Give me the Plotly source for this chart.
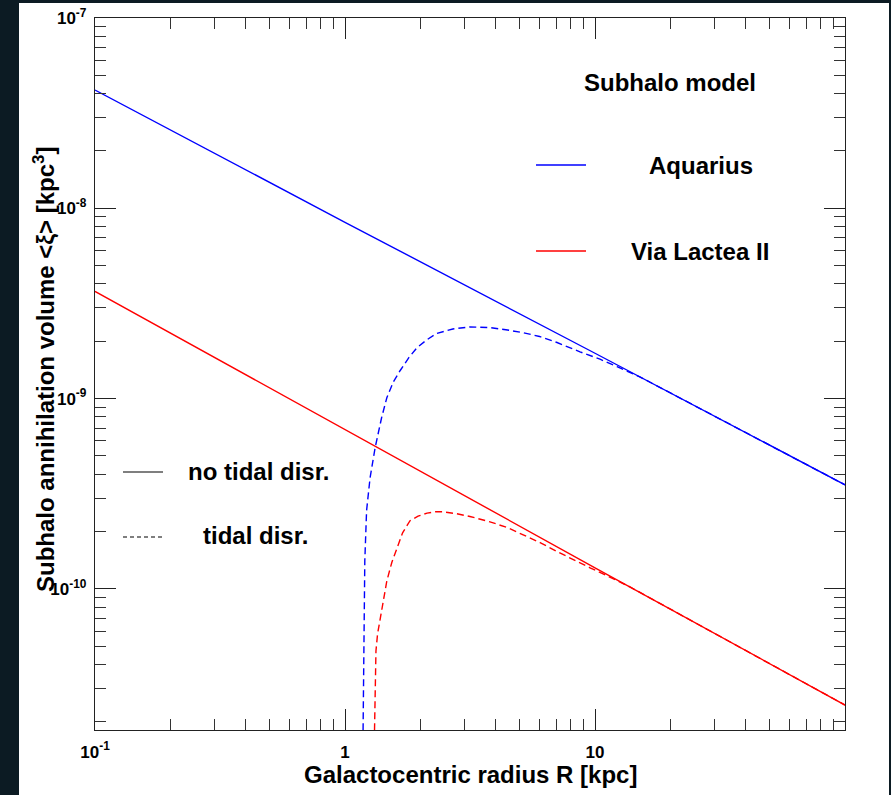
import plotly.graph_objects as go

# ---------------- data ----------------
R_solid = [0.1, 1.0, 10.0, 100.0]
aquarius_solid = [4.18e-8, 8.44e-9, 1.73e-9, 3.52e-10]
vl2_solid = [3.66e-9, 6.87e-10, 1.29e-10, 2.45e-11]

R_aq_tidal = [1.18, 1.19, 1.20, 1.22, 1.26, 1.32, 1.40, 1.47, 1.56, 1.66, 1.80, 1.94,
              2.13, 2.33, 2.70, 3.16, 3.80, 4.40, 5.15, 6.00, 7.05, 8.71, 10.47,
              12.25, 15.1, 100.0]
aquarius_tidal = [1.58e-11, 4.7e-11, 1.40e-10, 2.58e-10, 3.84e-10, 5.52e-10, 7.9e-10,
                  1.01e-9, 1.22e-9, 1.40e-9, 1.64e-9, 1.85e-9, 2.04e-9, 2.20e-9,
                  2.32e-9, 2.38e-9, 2.36e-9, 2.30e-9, 2.22e-9, 2.12e-9, 1.97e-9,
                  1.76e-9, 1.61e-9, 1.47e-9, 1.30e-9, 3.52e-10]

R_vl_tidal = [1.31, 1.32, 1.33, 1.35, 1.38, 1.42, 1.47, 1.54, 1.61, 1.70, 1.82, 1.96,
              2.13, 2.30, 2.47, 2.80, 3.16, 3.80, 4.45, 5.15, 6.03, 7.05, 8.17, 9.55,
              11.4, 13.8, 100.0]
vl2_tidal = [1.58e-11, 2.90e-11, 4.72e-11, 5.8e-11, 6.79e-11, 8.6e-11, 1.10e-10,
             1.38e-10, 1.64e-10, 1.97e-10, 2.28e-10, 2.41e-10, 2.50e-10, 2.54e-10,
             2.54e-10, 2.48e-10, 2.40e-10, 2.25e-10, 2.10e-10, 1.93e-10, 1.75e-10,
             1.57e-10, 1.42e-10, 1.29e-10, 1.156e-10, 1.023e-10, 2.45e-11]

x_tickvals = [0.1, 1, 10]
x_ticktext = ["10<sup>-1</sup>", "1", "10"]
y_tickvals = [1e-7, 1e-8, 1e-9, 1e-10]
y_ticktext = ["10<sup>-7</sup>", "10<sup>-8</sup>", "10<sup>-9</sup>", "10<sup>-10</sup>"]

# ---------------- figure ----------------
W, H = 891, 795
L, R_, T, B = 95, 46, 18, 65
pw, ph = W - L - R_, H - T - B

def px(x):
    return (x - L) / pw

def py(y):
    return (H - B - y) / ph

FONT = "Liberation Sans, Arial, Helvetica, sans-serif"
DASH = "7px,4px"

fig = go.Figure()
fig.add_trace(go.Scatter(x=R_solid, y=aquarius_solid, mode="lines",
                         line=dict(color="#0000ff", width=1.4), showlegend=False))
fig.add_trace(go.Scatter(x=R_solid, y=vl2_solid, mode="lines",
                         line=dict(color="#ff0000", width=1.4), showlegend=False))
fig.add_trace(go.Scatter(x=R_aq_tidal, y=aquarius_tidal, mode="lines",
                         line=dict(color="#0000ff", width=1.4, dash=DASH),
                         showlegend=False))
fig.add_trace(go.Scatter(x=R_vl_tidal, y=vl2_tidal, mode="lines",
                         line=dict(color="#ff0000", width=1.4, dash=DASH),
                         showlegend=False))

axis_common = dict(
    type="log", showgrid=False, zeroline=False,
    showline=True, linecolor="#222", linewidth=1.3, mirror="ticks",
    ticks="inside", ticklen=21, tickwidth=1.2, tickcolor="#222",
    minor=dict(ticks="inside", ticklen=11, tickwidth=1.1, tickcolor="#333",
               dtick="D1", showgrid=False),
    tickfont=dict(family=FONT, size=17, color="black", weight="bold"),
)

fig.update_xaxes(**axis_common, range=[-1, 2], tickmode="array",
                 tickvals=x_tickvals, ticktext=x_ticktext, ticklabelstandoff=6)
fig.update_yaxes(**axis_common, range=[-10.742, -7], tickmode="array",
                 tickvals=y_tickvals, ticktext=y_ticktext, ticklabelstandoff=4)

shapes = [
    dict(type="rect", xref="paper", yref="paper", x0=px(19), x1=px(889),
         y0=py(800), y1=py(3), fillcolor="white", line=dict(width=0), layer="below"),
    dict(type="line", xref="paper", yref="paper", x0=px(536), x1=px(586),
         y0=py(165), y1=py(165), line=dict(color="#0000ff", width=1.4)),
    dict(type="line", xref="paper", yref="paper", x0=px(536), x1=px(586),
         y0=py(251), y1=py(251), line=dict(color="#ff0000", width=1.4)),
    dict(type="line", xref="paper", yref="paper", x0=px(123), x1=px(163),
         y0=py(472), y1=py(472), line=dict(color="black", width=1.2)),
    dict(type="line", xref="paper", yref="paper", x0=px(123), x1=px(163),
         y0=py(537), y1=py(537), line=dict(color="black", width=1.2, dash="4px,3px")),
]

txt = dict(family=FONT, size=24, color="black", weight="bold")
annotations = [
    dict(text="Subhalo model", x=px(670), y=py(82)),
    dict(text="Aquarius", x=px(701), y=py(165)),
    dict(text="Via Lactea II", x=px(700), y=py(252)),
    dict(text="no tidal disr.", x=px(258), y=py(471)),
    dict(text="tidal disr.", x=px(255), y=py(535)),
    dict(text="Galactocentric radius R [kpc]", x=px(470), y=py(774)),
    dict(text="Subhalo annihilation volume &lt;ξ&gt; [kpc<sup>3</sup>]",
         x=px(44), y=py(370), textangle=-90),
]
for a in annotations:
    a.update(xref="paper", yref="paper", showarrow=False, font=txt,
             xanchor="center", yanchor="middle")

fig.update_layout(
    width=W, height=H,
    margin=dict(l=L, r=R_, t=T, b=B, autoexpand=False),
    paper_bgcolor="#0c1b23", plot_bgcolor="white",
    shapes=shapes, annotations=annotations, showlegend=False,
)

fig.write_html("out.html",
               config={"displayModeBar": False},
               post_script="document.body.style.margin='0px';"
                           "document.body.style.overflow='hidden';")
